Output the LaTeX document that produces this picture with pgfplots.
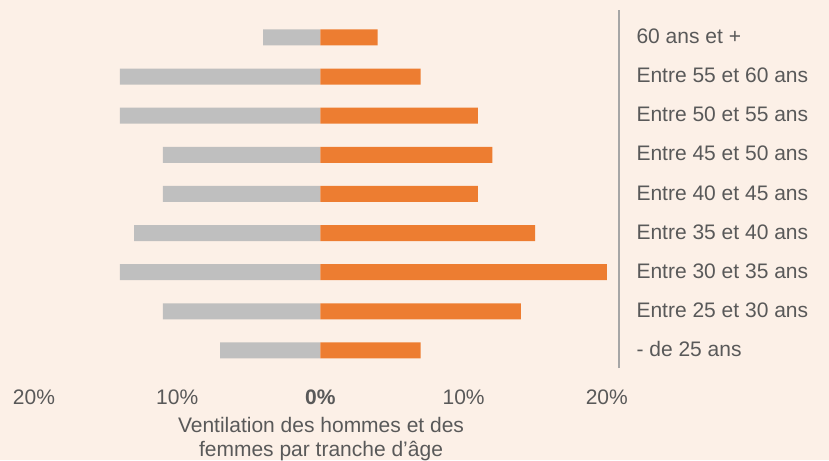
\documentclass[border=0pt]{standalone}
\usepackage{pgfplots}
\pgfplotsset{compat=1.18}
\usepackage{fontspec}
\setmainfont{Liberation Sans}
\definecolor{bg}{HTML}{FCF0E7}
\definecolor{grbar}{HTML}{BFBFBF}
\definecolor{orbar}{HTML}{ED7D31}
\definecolor{txt}{HTML}{595959}
\definecolor{axl}{HTML}{A6A6A6}
\begin{document}
\begin{tikzpicture}[x=1pt,y=1pt]
\clip (0,0) rectangle (829,460);
\fill[bg] (0,0) rectangle (829,460);
\begin{axis}[
 at={(34pt,92pt)}, anchor=south west,
 scale only axis, width=585pt, height=358pt,
 xmin=-20, xmax=20.85, ymin=-0.45, ymax=8.7,
 axis x line*=bottom, axis y line*=right,
 x axis line style={draw=none}, y axis line style={draw=axl, line width=2pt},
 xtick={-20,-10,0,10,20}, xticklabels={20\%,10\%,\textbf{0\%},10\%,20\%},
 ytick={0,...,8},
 yticklabels={- de 25 ans,Entre 25 et 30 ans,Entre 30 et 35 ans,Entre 35 et 40 ans,Entre 40 et 45 ans,Entre 45 et 50 ans,Entre 50 et 55 ans,Entre 55 et 60 ans,60 ans et +},
 major tick length=0pt,
 tick style={draw=none},
 tick label style={font=\fontsize{21}{25}\selectfont, text=txt},
 xticklabel style={yshift=-18pt},
 yticklabel style={anchor=west, xshift=14pt, yshift=1pt},
 xlabel={Ventilation des hommes et des\\femmes par tranche d’âge},
 xlabel style={font=\fontsize{21}{24}\selectfont, text=txt, align=center, at={(axis description cs:0.4906,-0.138)}, anchor=north, inner sep=0pt},
 xbar, bar width=16pt, bar shift=0pt,
]
\addplot[fill=grbar, draw=none] coordinates {(-7,0) (-11,1) (-14,2) (-13,3) (-11,4) (-11,5) (-14,6) (-14,7) (-4,8)};
\addplot[fill=orbar, draw=none] coordinates {(7,0) (14,1) (20,2) (15,3) (11,4) (12,5) (11,6) (7,7) (4,8)};
\end{axis}
\end{tikzpicture}
\end{document}
